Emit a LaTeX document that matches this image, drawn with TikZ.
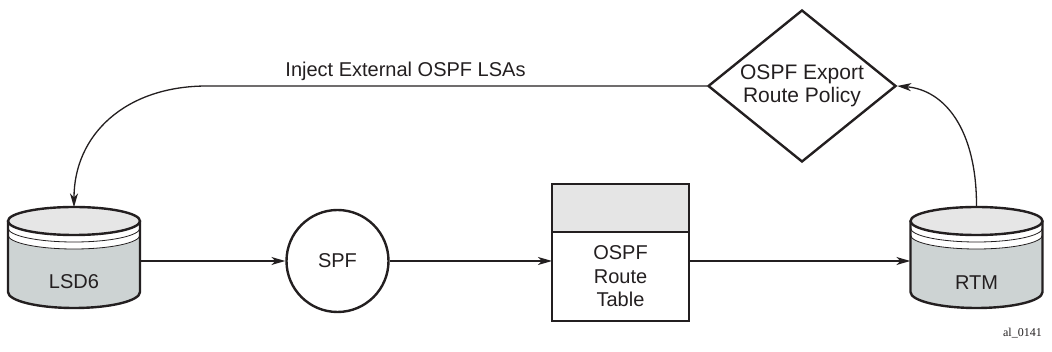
\documentclass[tikz,border=0pt]{standalone}
\usepackage{fontspec}
\setmainfont{Liberation Sans}
\newfontfamily\serifnote{Liberation Serif}
\usetikzlibrary{arrows.meta,shapes.geometric,calc}
\definecolor{ink}{HTML}{231F20}
\definecolor{cylgray}{HTML}{CDD3D3}
\definecolor{cyltop}{HTML}{E6E6E6}
\definecolor{hdrgray}{HTML}{E5E5E5}
\newcommand\dbcylinder[1]{%
  \fill[cylgray] ($(#1.center)+(-66pt,37pt)$) -- ($(#1.center)+(-66pt,-34pt)$)
     arc[start angle=180,end angle=360,x radius=66pt,y radius=16pt]
     -- ($(#1.center)+(66pt,37pt)$) -- cycle;
  \fill[white] ($(#1.center)+(-66pt,37pt)$)
     arc[start angle=180,end angle=360,x radius=66pt,y radius=14pt]
     -- ($(#1.center)+(66pt,23pt)$)
     arc[start angle=360,end angle=180,x radius=66pt,y radius=14pt] -- cycle;
  \draw[ink,line width=0.8pt] ($(#1.center)+(-66pt,30pt)$)
     arc[start angle=180,end angle=360,x radius=66pt,y radius=14pt];
  \draw[ink,line width=0.8pt] ($(#1.center)+(-66pt,23pt)$)
     arc[start angle=180,end angle=360,x radius=66pt,y radius=14pt];
  \draw[ink,line width=2.4pt,line join=round] ($(#1.center)+(-66pt,37pt)$) -- ($(#1.center)+(-66pt,-34pt)$)
     arc[start angle=180,end angle=360,x radius=66pt,y radius=16pt]
     -- ($(#1.center)+(66pt,37pt)$);
  \filldraw[fill=cyltop,draw=ink,line width=2.4pt] ($(#1.center)+(0pt,37pt)$)
     ellipse[x radius=66pt,y radius=14pt];
}
\begin{document}
\begin{tikzpicture}[x=1pt,y=-1pt,
  lbl/.style={font=\fontsize{20}{23.5}\selectfont, text=ink, align=center, inner sep=0pt},
  conn/.style={draw=ink, line width=1.3pt, -{Stealth[length=14pt,width=8pt,inset=4pt]}},
  cylnode/.style={minimum width=132pt, minimum height=101pt, inner sep=0pt},
  shapeline/.style={draw=ink, line width=2.4pt},
  ]
\useasboundingbox (0,0) rectangle (1052,352);

% cylinders
\node[cylnode] (lsd) at (74,258) {};
\dbcylinder{lsd}
\node[lbl] (lsdtxt) at (74,282) {LSD6};

\node[cylnode] (rtm) at (976.5,258) {};
\dbcylinder{rtm}
\node[lbl] (rtmtxt) at (976.5,283) {RTM};

% SPF
\node[shapeline, circle, minimum size=102pt, inner sep=0pt, lbl] (spf) at (337.5,261) {SPF};

% Route table
\node[shapeline, rectangle, outer sep=0pt, minimum width=137pt, minimum height=89pt, lbl] (rt) at (620.5,276.5) {OSPF\\Route\\Table};
\node[shapeline, rectangle, outer sep=0pt, fill=hdrgray, minimum width=137pt, minimum height=48pt, anchor=south] (rth) at (rt.north) {};

% diamond
\node[shapeline, diamond, aspect=1.24, minimum width=188pt, minimum height=152pt, inner sep=0pt, lbl, font=\fontsize{21}{22.5}\selectfont] (dia) at (802,86) {OSPF Export\\Route Policy};

% connectors
\draw[conn] ($(lsd.east)+(0,3)$) -- (spf.west);
\draw[conn] (spf.east) -- (rt.west |- spf.east);
\draw[conn] (rt.east |- spf.east) -- (rtm.west |- spf.east);

\coordinate (bend) at (207,86);
\draw[conn] (dia.west) -- (bend) .. controls (125,86) and (74,135) .. (lsd.north);
\node[lbl, anchor=base] (inj) at (405.5,77) {Inject External OSPF LSAs};

\draw[conn] (rtm.north) .. controls (977,130) and (945,90) .. (dia.east);

\node[font=\serifnote\fontsize{12}{14}\selectfont, text=ink, anchor=base east, inner sep=0pt] (tag) at (1042,337) {al\_0141};
\end{tikzpicture}
\end{document}
